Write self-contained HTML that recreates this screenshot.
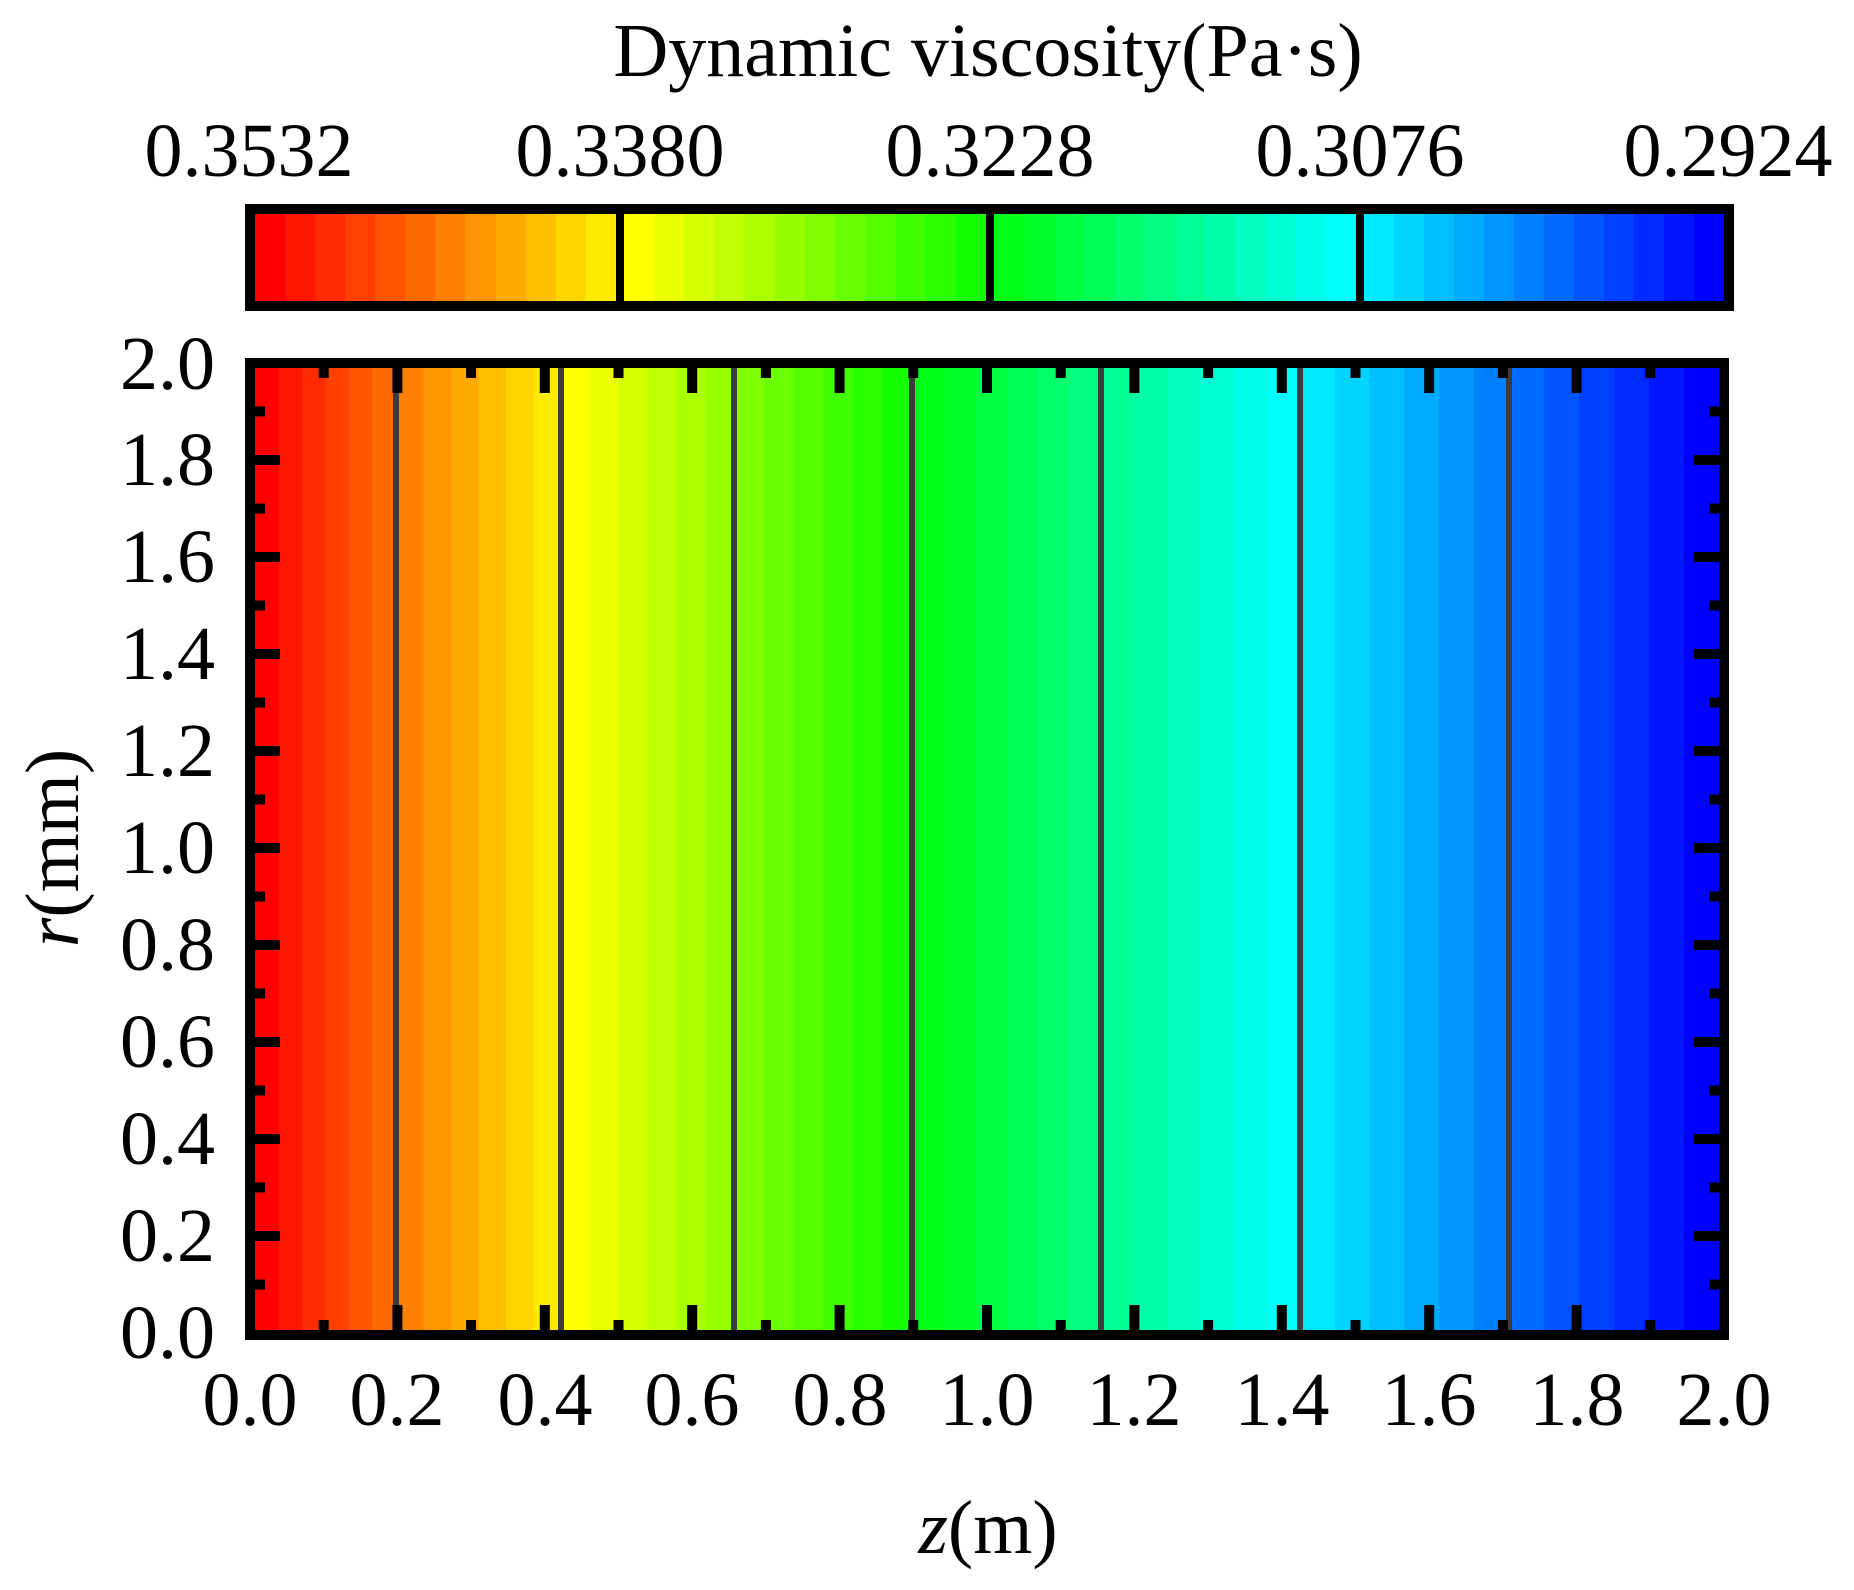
<!DOCTYPE html>
<html><head><meta charset="utf-8"><style>
html,body{margin:0;padding:0;background:#fff;}
svg{display:block;}
text{font-family:"Liberation Serif",serif;fill:#000;}
</style></head><body>
<svg id="s" width="1854" height="1590" viewBox="0 0 1854 1590" xmlns="http://www.w3.org/2000/svg">
<g id="cb"></g>
<g id="pl"></g>
<g id="tk"></g>
<rect x="250" y="209" width="1479" height="97" fill="none" stroke="#000" stroke-width="10"/>
<rect x="250" y="363" width="1474" height="972" fill="none" stroke="#000" stroke-width="10"/>
<text x="988" y="76" font-size="76" text-anchor="middle">Dynamic viscosity(Pa·s)</text>
<g font-size="76" text-anchor="middle">
<text x="249" y="176">0.3532</text>
<text x="620" y="176">0.3380</text>
<text x="990" y="176">0.3228</text>
<text x="1360" y="176">0.3076</text>
<text x="1728" y="176">0.2924</text>
</g>
<g font-size="76" text-anchor="middle">
<text x="250" y="1425">0.0</text><text x="397" y="1425">0.2</text><text x="545" y="1425">0.4</text>
<text x="692" y="1425">0.6</text><text x="840" y="1425">0.8</text><text x="987" y="1425">1.0</text>
<text x="1134" y="1425">1.2</text><text x="1282" y="1425">1.4</text><text x="1429" y="1425">1.6</text>
<text x="1577" y="1425">1.8</text><text x="1724" y="1425">2.0</text>
</g>
<g font-size="76" text-anchor="end">
<text x="215" y="1358">0.0</text><text x="215" y="1261">0.2</text><text x="215" y="1164">0.4</text>
<text x="215" y="1067">0.6</text><text x="215" y="970">0.8</text><text x="215" y="873">1.0</text>
<text x="215" y="776">1.2</text><text x="215" y="679">1.4</text><text x="215" y="582">1.6</text>
<text x="215" y="485">1.8</text><text x="215" y="389">2.0</text>
</g>
<text x="988" y="1553" font-size="76" text-anchor="middle"><tspan font-style="italic">z</tspan>(m)</text>
<text transform="translate(78,848) rotate(-90)" font-size="76" text-anchor="middle"><tspan font-style="italic">r</tspan>(mm)</text>
</svg>
<script>
var NS="http://www.w3.org/2000/svg";
function el(p,t,a){var e=document.createElementNS(NS,t);for(var k in a)e.setAttribute(k,a[k]);p.appendChild(e);return e;}
function col(i){var s=Math.floor(i/12),j=i%12,f=Math.round(j*255/12),r,g,b;
 if(s==0){r=255;g=f;b=0;}else if(s==1){r=255-f;g=255;b=0;}else if(s==2){r=0;g=255;b=Math.round((j+1)*255/12);}else{r=0;g=Math.max(0,255-Math.round((j+1)*255/12));b=255;}
 return "rgb("+r+","+g+","+b+")";}
var cb=document.getElementById("cb");
var segs=[[255,616],[624,986],[994,1356],[1364,1724]];
for(var s=0;s<4;s++){var a=segs[s][0],b=segs[s][1],w=(b-a)/12;
 for(var j=0;j<12;j++)el(cb,"rect",{x:a+j*w,y:214,width:w+0.6,height:87,fill:col(s*12+j)});}
[620,990,1360].forEach(function(x){el(cb,"rect",{x:x-4,y:209,width:8,height:97,fill:"#000"});});
var pl=document.getElementById("pl");
var P=[255,396,561,734,912,1101,1300,1509,1719];
for(var k=0;k<8;k++){var a=P[k],b=P[k+1],w=(b-a)/6;
 for(var j=0;j<6;j++)el(pl,"rect",{x:a+j*w,y:368,width:w+0.6,height:962,fill:col(k*6+j)});}
for(var k=1;k<8;k++)el(pl,"rect",{x:P[k]-3,y:368,width:6,height:962,fill:"#3c3c3c"});
var tk=document.getElementById("tk");
for(var i=1;i<20;i++){var x=250+i*73.7,L=(i%2==0)?25:10;
 el(tk,"rect",{x:x-5,y:366,width:10,height:L+2,fill:"#000"});
 el(tk,"rect",{x:x-5,y:1330-L,width:10,height:L+2,fill:"#000"});}
for(var i=1;i<20;i++){var y=363+i*48.5,L=(i%2==0)?25:10;
 el(tk,"rect",{x:253,y:y-5,width:L+2,height:10,fill:"#000"});
 el(tk,"rect",{x:1719-L,y:y-5,width:L+2,height:10,fill:"#000"});}
</script>
</body></html>
